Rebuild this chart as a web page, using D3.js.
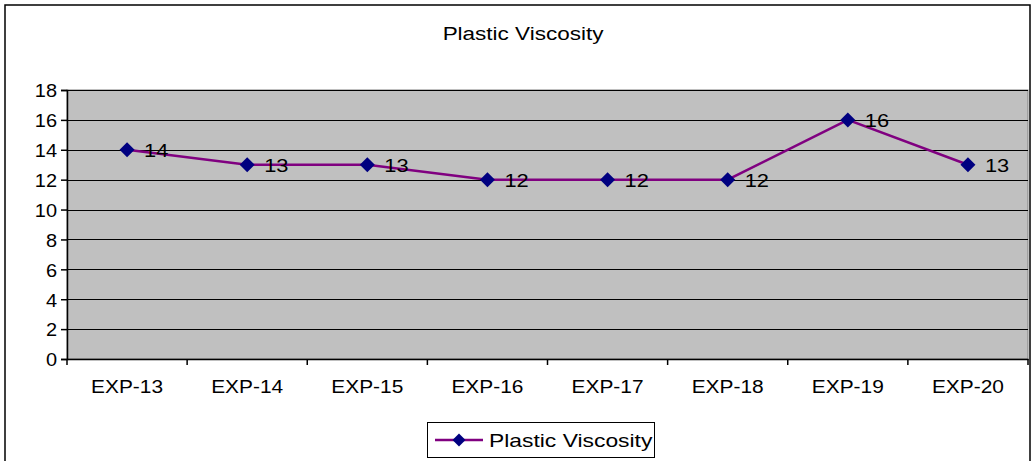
<!DOCTYPE html>
<html><head><meta charset="utf-8">
<script src="https://cdn.jsdelivr.net/npm/d3@7"></script>
<style>body{margin:0;background:#fff}svg{display:block;font-family:"Liberation Sans",Arial,sans-serif}</style>
</head><body>
<script>
const categories = ["EXP-13","EXP-14","EXP-15","EXP-16","EXP-17","EXP-18","EXP-19","EXP-20"];
const values = [14,13,13,12,12,12,16,13];
const yTicks = [0,2,4,6,8,10,12,14,16,18];
const seriesName = "Plastic Viscosity";
const title = "Plastic Viscosity";

const W=1033,H=461;
const svg=d3.select("body").append("svg").attr("width",W).attr("height",H);
svg.append("rect").attr("x",5).attr("y",5).attr("width",1025).attr("height",460)
  .attr("fill","#fff").attr("stroke","#000").attr("stroke-width",1.5);

const L=67,R=1028,T=90,B=359;
const x=d3.scaleBand().domain(categories).range([L,R]);
const y=d3.scaleLinear().domain([0,18]).range([B,T]);

svg.append("rect").attr("x",L).attr("y",T).attr("width",R-L).attr("height",B-T)
  .attr("fill","#C0C0C0").attr("stroke","#808080").attr("stroke-width",1);

svg.append("g").selectAll("line").data(yTicks.filter(d=>d>0)).join("line")
  .attr("x1",L).attr("x2",R).attr("y1",d=>Math.round(y(d))+0.5).attr("y2",d=>Math.round(y(d))+0.5)
  .attr("stroke","#000").attr("stroke-width",1);

const ya=svg.append("g").attr("transform",`translate(${L},0)`)
  .call(d3.axisLeft(y).tickValues(yTicks).tickSize(6).tickPadding(4));
ya.select(".domain").attr("stroke","#000").attr("stroke-width",1.5);
ya.selectAll(".tick line").attr("stroke","#000").attr("stroke-width",1.5);
ya.selectAll("text").attr("font-size",19).attr("font-family","Liberation Sans, Arial").attr("fill","#000")
  .attr("dy","0.36em").attr("transform","scale(1.05,1)").attr("x",-10/1.05);

const xa=svg.append("g").attr("transform",`translate(0,${B})`)
  .call(d3.axisBottom(x).tickSize(0).tickPadding(14));
xa.select(".domain").attr("stroke","#000").attr("stroke-width",1.5);
xa.selectAll("text").attr("font-size",19).attr("font-family","Liberation Sans, Arial").attr("fill","#000")
  .attr("dy",null).attr("y",34).attr("transform","scale(1.1,1)");
const bounds=[...categories.map(c=>x(c)),R];
svg.append("g").selectAll("line").data(bounds).join("line")
  .attr("x1",d=>d).attr("x2",d=>d).attr("y1",B).attr("y2",B+6).attr("stroke","#000").attr("stroke-width",1.5);

svg.append("text").attr("transform","translate(523,40) scale(1.25,1)").attr("text-anchor","middle")
  .attr("font-size",18).text(title);

const cx=d=>x(d)+x.bandwidth()/2;
const line=d3.line().x((d,i)=>cx(categories[i])).y(d=>y(d));
svg.append("path").datum(values).attr("d",line).attr("fill","none")
  .attr("stroke","#800080").attr("stroke-width",2.5);

const dia=(s)=>`M0,${-s}L${s},0L0,${s}L${-s},0Z`;
svg.append("g").selectAll("path").data(values).join("path")
  .attr("transform",(d,i)=>`translate(${cx(categories[i])},${y(d)})`)
  .attr("d",dia(7.5)).attr("fill","#000080");

svg.append("g").selectAll("text").data(values).join("text")
  .attr("transform",(d,i)=>`translate(${cx(categories[i])+17},${y(d)+7}) scale(1.15,1)`)
  .attr("font-size",19).attr("fill","#000").text(d=>d);

// legend
svg.append("rect").attr("x",427.5).attr("y",422.5).attr("width",227).attr("height",35)
  .attr("fill","#fff").attr("stroke","#000").attr("stroke-width",1);
svg.append("line").attr("x1",435).attr("x2",483).attr("y1",440).attr("y2",440)
  .attr("stroke","#800080").attr("stroke-width",2.5);
svg.append("path").attr("transform","translate(459,440)").attr("d",dia(6.5)).attr("fill","#000080");
svg.append("text").attr("transform","translate(489,447) scale(1.27,1)").attr("font-size",18).text(seriesName);
</script>
</body></html>
